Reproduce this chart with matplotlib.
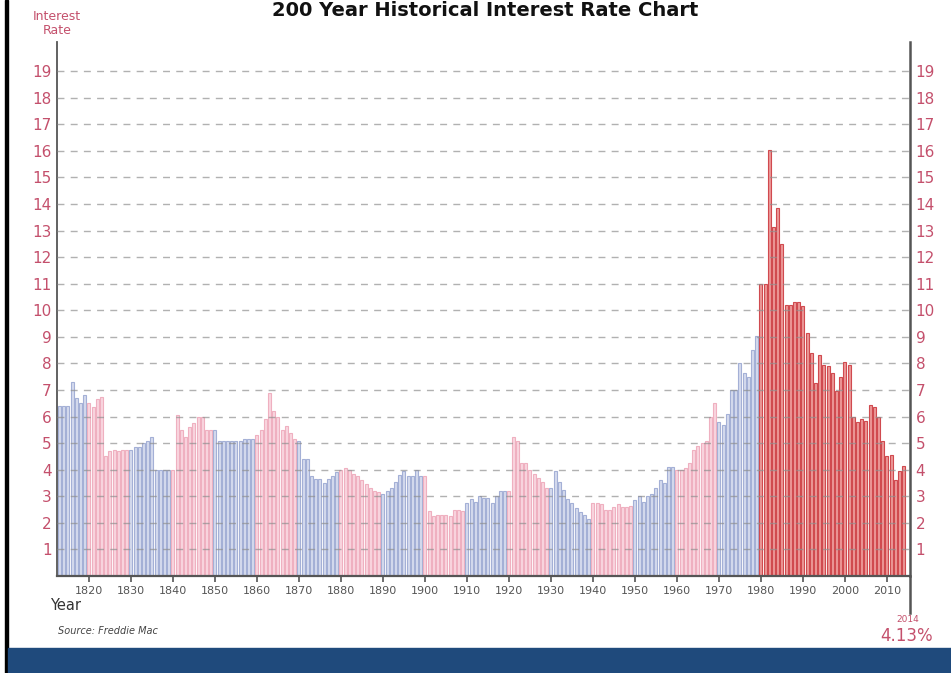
import matplotlib.pyplot as plt
from matplotlib.patches import Rectangle

plt.rcParams['font.family'] = ['Liberation Sans Narrow', 'DejaVu Sans']

# annual mortgage / long rate, percent, 1813-2014
start_year = 1813
rates = [
    6.4, 6.4, 6.4, 7.3, 6.7, 6.5, 6.8,                        # 1813-1819
    6.5, 6.35, 6.65, 6.75, 4.5, 4.7, 4.75, 4.7, 4.75, 4.75,   # 1820s
    4.75, 4.85, 4.85, 5.0, 5.1, 5.25, 4.0, 4.0, 4.0, 4.0,     # 1830s
    4.0, 6.05, 5.5, 5.25, 5.6, 5.75, 6.0, 6.0, 5.5, 5.5,      # 1840s
    5.5, 5.1, 5.1, 5.1, 5.1, 5.1, 5.1, 5.15, 5.15, 5.15,      # 1850s
    5.3, 5.5, 5.9, 6.9, 6.2, 6.0, 5.5, 5.65, 5.4, 5.15,       # 1860s
    5.1, 4.4, 4.4, 3.75, 3.65, 3.65, 3.5, 3.65, 3.75, 3.9,    # 1870s
    4.0, 4.05, 4.0, 3.85, 3.75, 3.6, 3.45, 3.3, 3.2, 3.15,    # 1880s
    3.1, 3.2, 3.3, 3.55, 3.8, 3.95, 3.75, 3.75, 4.0, 3.75,    # 1890s
    3.75, 2.45, 2.25, 2.3, 2.3, 2.3, 2.25, 2.5, 2.5, 2.45,    # 1900s
    2.75, 2.9, 2.8, 3.0, 2.95, 2.95, 2.75, 3.0, 3.2, 3.2,     # 1910s
    3.2, 5.25, 5.1, 4.25, 4.25, 4.0, 3.85, 3.7, 3.55, 3.3,    # 1920s
    3.3, 3.95, 3.55, 3.25, 2.9, 2.75, 2.55, 2.4, 2.3, 2.15,   # 1930s
    2.75, 2.75, 2.7, 2.5, 2.5, 2.6, 2.7, 2.6, 2.6, 2.65,      # 1940s
    2.85, 3.0, 2.8, 3.0, 3.1, 3.3, 3.6, 3.5, 4.1, 4.1,        # 1950s
    4.0, 4.0, 4.05, 4.25, 4.75, 4.9, 5.0, 5.1, 6.0, 6.5,      # 1960s
    5.8, 5.7, 6.1, 7.0, 7.0, 8.0, 7.65, 7.5, 8.5, 9.05,       # 1970s
    11.0, 11.0, 16.05, 13.15, 13.85, 12.5, 10.2, 10.2, 10.3, 10.3,  # 1980s
    10.15, 9.15, 8.4, 7.25, 8.3, 7.95, 7.9, 7.65, 6.95, 7.5,  # 1990s
    8.05, 7.95, 6.0, 5.8, 5.9, 5.85, 6.45, 6.35, 6.0, 5.1,    # 2000s
    4.5, 4.55, 3.6, 3.95, 4.13,                               # 2010-2014
]
years = list(range(start_year, start_year + len(rates)))
decade_ticks = list(range(1820, 2011, 10))
rate_ticks = list(range(1, 20))

W, H = 951, 673
fig = plt.figure(figsize=(W / 100, H / 100), dpi=100)
ax = fig.add_axes([57 / W, 1 - 576 / H, (910 - 57) / W, (576 - 42) / H])

pink_txt = '#c4506c'
blue_face, blue_edge = '#d5dbee', '#a4b0d6'
pink_face, pink_edge = '#f9d6df', '#efb0c0'
red_face, red_edge = '#ec9898', '#d04a4f'

faces, edges = [], []
for y in years:
    if y >= 1980:
        faces.append(red_face); edges.append(red_edge)
    elif (y // 10) % 2 == 1:
        faces.append(blue_face); edges.append(blue_edge)
    else:
        faces.append(pink_face); edges.append(pink_edge)

ax.bar(years, rates, width=0.7, color=faces, edgecolor=edges,
       linewidth=0.8, zorder=2)

for r in rate_ticks:
    ax.axhline(r, color='#909090', lw=1.0, ls=(0, (5, 4.5)), alpha=0.7,
               zorder=3)

ax.set_xlim(1812.4, 2015.5)
ax.set_ylim(0, 20.1)

ax.spines['top'].set_visible(False)
for s in ['left', 'bottom', 'right']:
    ax.spines[s].set_color('#555555')
ax.spines['left'].set_linewidth(1.3)
ax.spines['bottom'].set_linewidth(1.6)
ax.spines['right'].set_linewidth(1.8)
# right spine runs on below the axis to the 2014 marker
ax.plot([2015.5, 2015.5], [0, -1.4], color='#555555', lw=1.8,
        clip_on=False, zorder=4)

ax.set_yticks(rate_ticks)
ax.set_yticklabels([str(r) for r in rate_ticks])
ax.tick_params(axis='y', which='both', length=0, labelsize=11,
               labelcolor=pink_txt, left=True, right=True,
               labelleft=True, labelright=True, pad=4)
ax.set_xticks(decade_ticks)
ax.set_xticklabels([str(d) for d in decade_ticks])
ax.tick_params(axis='x', length=4, width=1.2, color='#555555',
               labelsize=8, labelcolor='#555555', pad=3)

fig.text(0.51, 1 - 16 / H, '200 Year Historical Interest Rate Chart',
         ha='center', va='baseline', fontsize=14, fontweight='bold',
         color='#111111')
fig.text(57 / W, 1 - 23 / H, 'Interest\nRate', ha='center', va='center',
         fontsize=9, color=pink_txt, linespacing=1.1)
fig.text(50 / W, 1 - 605 / H, 'Year', ha='left', va='center',
         fontsize=10.5, color='#333333')
fig.text(58 / W, 1 - 631 / H, 'Source: Freddie Mac', ha='left',
         va='center', fontsize=7, style='italic', color='#444444')
fig.text(908 / W, 1 - 620 / H, '2014', ha='center', va='center',
         fontsize=6.5, color=pink_txt)
fig.text(907 / W, 1 - 636 / H, '4.13%', ha='center', va='center',
         fontsize=12, color=pink_txt)

# frame edge and footer band
fig.patches.append(Rectangle((5 / W, 0), 3 / W, 1, transform=fig.transFigure,
                             color='black', zorder=10))
fig.patches.append(Rectangle((8 / W, 0), 1, 25 / H, transform=fig.transFigure,
                             color='#1f4a7c', zorder=10))

fig.savefig('out.png', dpi=100)
